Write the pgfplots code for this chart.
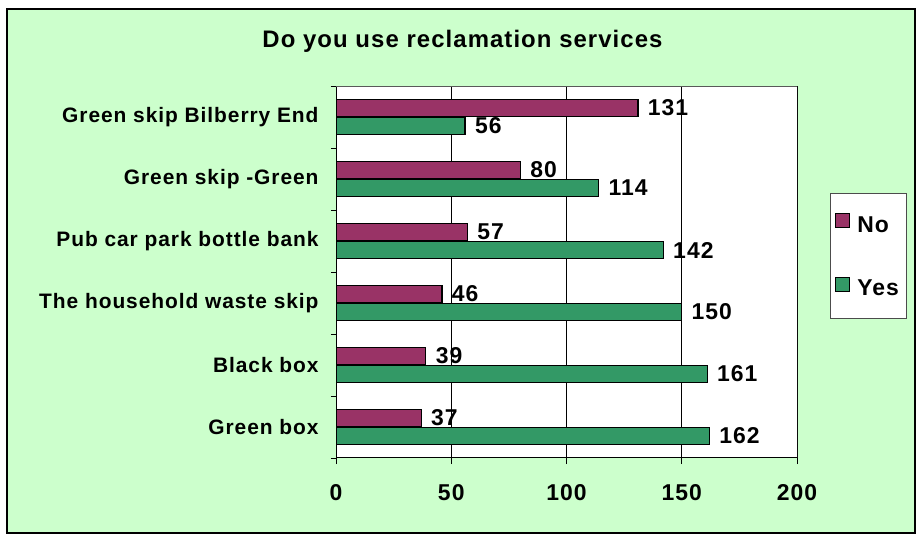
\documentclass[border=0pt]{standalone}
\usepackage{fontspec}
\setmainfont{Liberation Sans}[LetterSpace=4.5]
\usepackage{pgfplots}
\usepackage{pgfplotstable}
\pgfplotsset{compat=1.18}
\definecolor{bg}{HTML}{CCFFCC}
\definecolor{noC}{HTML}{993366}
\definecolor{yesC}{HTML}{339966}
\newcommand\lbl{\fontsize{21}{25}\selectfont\bfseries}
\newcommand\num{\fontsize{23}{27}\selectfont\bfseries}
\newcommand\ttl{\fontsize{24}{28}\selectfont\bfseries}

% pos = category row (1 = bottom)
\pgfplotstableread{
pos yes no
1   162 37
2   161 39
3   150 46
4   142 57
5   114 80
6   56  131
}\survey

\begin{document}
\begin{tikzpicture}
\useasboundingbox (0,0) rectangle (917bp,536bp);
\draw[black, line width=1.2bp, fill=bg] (7bp,3bp) rectangle (915bp,527bp);
\begin{axis}[
  at={(336bp,78bp)}, anchor=south west,
  scale only axis, width=461bp, height=372bp,
  xmin=0, xmax=200, ymin=0.5, ymax=6.5,
  axis x line=bottom, axis y line=left,
  axis line style={-, black, line width=1bp},
  axis background/.style={fill=white},
  /pgf/number format/assume math mode=true,
  xtick={0,50,...,200},
  ytick={1,...,6},
  yticklabels={Green box\hspace{0.3em}, Black box\hspace{0.3em}, The household waste skip, Pub car park bottle bank, Green skip -Green\hspace{0.3em}, Green skip Bilberry End},
  minor ytick={0.5,1.5,...,6.5},
  tick align=outside,
  major tick length=6bp,
  minor tick length=5bp,
  tick style={black, line width=0.8bp},
  every major y tick/.append style={draw=none},
  xmajorgrids, grid style={black, line width=0.8bp},
  xticklabel style={font=\num, anchor=north, yshift=-17bp},
  yticklabel style={font=\lbl, anchor=east, xshift=-8bp},
  title={Do you use reclamation services},
  title style={font=\ttl, at={(0.2744,1.0861)}, anchor=base},
  legend style={at={(1.0716,0.7124)}, anchor=north west, draw=black!70,
    fill=white, line width=0.8bp, font=\num, inner xsep=5bp, inner ysep=20bp,
    row sep=41bp, /tikz/every odd column/.append style={column sep=5bp}},
  legend cell align=left,
  legend image code/.code={\draw[#1, line width=1bp] (0bp,-3bp) rectangle (14bp,11bp);},
  point meta=x,
  nodes near coords,
  nodes near coords style={font=\num, black, anchor=west, xshift=6bp},
]
\addplot[xbar, bar width=0.28, bar shift=0.145, fill=noC, draw=black, line width=1.2bp,
  every node near coord/.append style={yshift=9bp}]
  table[x=no, y=pos] {\survey};
\addplot[xbar, bar width=0.28, bar shift=-0.145, fill=yesC, draw=black, line width=1.2bp,
  every node near coord/.append style={yshift=-9bp}]
  table[x=yes, y=pos] {\survey};
\legend{No, Yes}
\draw[gray!70!black, line width=1bp] (rel axis cs:0,1) -- (rel axis cs:1,1) -- (rel axis cs:1,0);
\end{axis}
\end{tikzpicture}
\end{document}
